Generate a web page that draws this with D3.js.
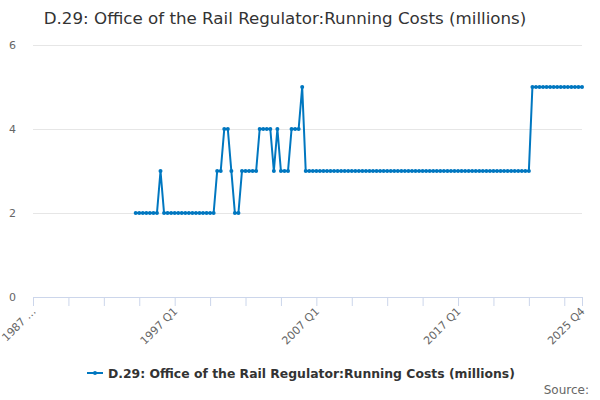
<!DOCTYPE html>
<html>
<head>
<meta charset="utf-8">
<script src="https://cdn.jsdelivr.net/npm/d3@7"></script>
<style>
  body { margin: 0; background: #fff; }
  svg text { font-family: "DejaVu Sans", Verdana, sans-serif; }
</style>
</head>
<body>
<div id="chart"></div>
<script>
// quarters 1987 Q1 .. 2025 Q4
var startYear = 1987, endYear = 2025;
var quarters = ["Q1", "Q2", "Q3", "Q4"];
var categories = [];
for (var y = startYear; y <= endYear; y++) {
  quarters.forEach(function(q) { categories.push(y + " " + q); });
}

var seriesName = "D.29: Office of the Rail Regulator:Running Costs (millions)";
var values = [
  null,null,null,null, null,null,null,null, null,null,null,null, null,null,null,null,   // 1987-1990
  null,null,null,null, null,null,null,null, null,null,null,null, null,2,2,2,            // 1991-1994
  2,2,2,2, 3,2,2,2, 2,2,2,2, 2,2,2,2,                                                   // 1995-1998
  2,2,2,2, 3,3,4,4, 3,2,2,3, 3,3,3,3,                                                   // 1999-2002
  4,4,4,4, 3,4,3,3, 3,4,4,4, 5,3,3,3,                                                   // 2003-2006
  3,3,3,3, 3,3,3,3, 3,3,3,3, 3,3,3,3,                                                   // 2007-2010
  3,3,3,3, 3,3,3,3, 3,3,3,3, 3,3,3,3,                                                   // 2011-2014
  3,3,3,3, 3,3,3,3, 3,3,3,3, 3,3,3,3,                                                   // 2015-2018
  3,3,3,3, 3,3,3,3, 3,3,3,3, 3,5,5,5,                                                   // 2019-2022
  5,5,5,5, 5,5,5,5, 5,5,5,5                                                             // 2023-2025
];
var yTicks = [0, 2, 4, 6];
var xLabels = ["1987 …", "1997 Q1", "2007 Q1", "2017 Q1", "2025 Q4"];
var xLabelIdx = [0, 40, 80, 120, 155];
var tickEvery = 10;

var W = 600, H = 400;
var margin = {left: 33, right: 18, top: 45, bottom: 103};

var svg = d3.select("#chart").append("svg").attr("width", W).attr("height", H);

var x = d3.scaleLinear().domain([0, categories.length - 1]).range([margin.left, W - margin.right]);
var yS = d3.scaleLinear().domain([0, 6]).range([H - margin.bottom, margin.top]);

// title
svg.append("text").attr("x", 285).attr("y", 24).attr("text-anchor", "middle")
  .style("font-size", "16.7px").style("fill", "#333").text(seriesName);

// grid
var yAxis = d3.axisLeft(yS).tickValues(yTicks).tickSize(-(W - margin.left - margin.right)).tickFormat(d3.format("d"));
var gy = svg.append("g").attr("transform", "translate(" + margin.left + ",0)").call(yAxis);
gy.select(".domain").remove();
gy.selectAll(".tick line").attr("stroke", "#e6e6e6");
gy.selectAll(".tick text").attr("x", -17).style("font-size", "11px").style("fill", "#666").attr("text-anchor", "end");

// x axis
var tickIdx = d3.range(0, categories.length, tickEvery).concat([categories.length - 1]);
var xAxis = d3.axisBottom(x).tickValues(tickIdx).tickSize(9).tickSizeOuter(0)
  .tickFormat(function(d) { var k = xLabelIdx.indexOf(d); return k < 0 ? "" : xLabels[k]; });
var gx = svg.append("g").attr("transform", "translate(0," + (H - margin.bottom) + ")").call(xAxis);
gx.select(".domain").attr("stroke", "#ccd6eb");
gx.selectAll(".tick line").attr("stroke", "#ccd6eb");
gx.selectAll(".tick text").style("font-size", "11px").style("fill", "#666")
  .attr("text-anchor", "end").attr("dy", 0).attr("y", 0)
  .attr("transform", "translate(3,15) rotate(-45)");

// line
var line = d3.line()
  .defined(function(d) { return d != null; })
  .x(function(d, i) { return x(i); })
  .y(function(d) { return yS(d); });

svg.append("path").datum(values).attr("d", line)
  .attr("fill", "none").attr("stroke", "#0077c0").attr("stroke-width", 2)
  .attr("stroke-linejoin", "round");

var pts = values.map(function(v, i) { return {v: v, i: i}; }).filter(function(d) { return d.v != null; });
svg.append("g").selectAll("circle").data(pts).enter().append("circle")
  .attr("cx", function(d) { return x(d.i); })
  .attr("cy", function(d) { return yS(d.v); })
  .attr("r", 2).attr("fill", "#0077c0");

// legend
var lg = svg.append("g").attr("transform", "translate(87,373)");
lg.append("line").attr("x1", 0).attr("x2", 16).attr("y1", 0).attr("y2", 0)
  .attr("stroke", "#0077c0").attr("stroke-width", 2);
lg.append("circle").attr("cx", 8).attr("cy", 0).attr("r", 2).attr("fill", "#0077c0");
lg.append("text").attr("x", 21).attr("y", 4.5).style("font-size", "12.4px").style("font-weight", "bold")
  .style("fill", "#333").text(seriesName);

svg.append("text").attr("x", 589).attr("y", 394).attr("text-anchor", "end")
  .style("font-size", "12px").style("fill", "#666").text("Source:");
</script>
</body>
</html>
